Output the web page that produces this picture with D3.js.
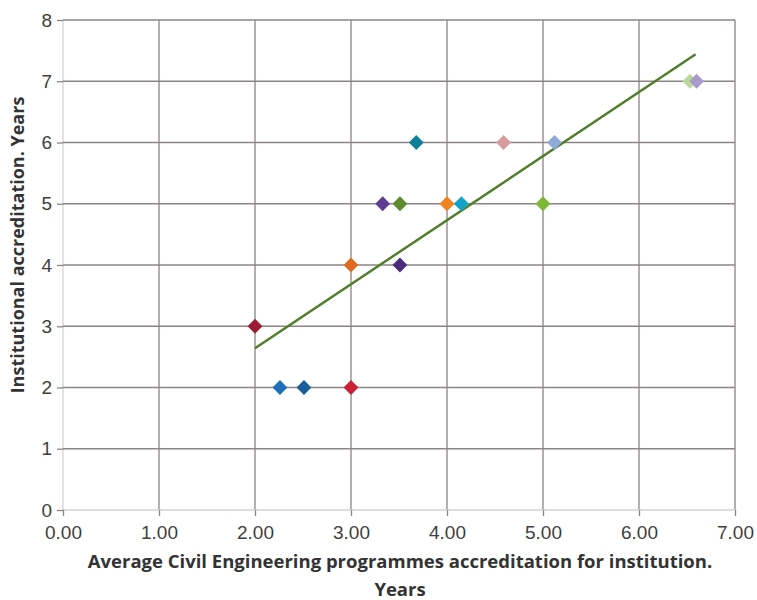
<!DOCTYPE html>
<html>
<head>
<meta charset="utf-8">
<script src="https://cdn.jsdelivr.net/npm/d3@7"></script>
<style>
  body { margin: 0; background: #fff; }
  svg { font-family: "Open Sans", "Liberation Sans", sans-serif; }
  .axis path { display: none; }
  .axis line { stroke: #8c8484; stroke-width: 1.3; }
  .axis text { fill: #404040; font-size: 19px; }
</style>
</head>
<body>
<div id="container1"></div>
<script>
// data
let xVals = [2.00, 2.26, 2.51, 3.00, 3.00, 3.33, 3.51, 3.51, 3.68, 4.00, 4.15, 4.59, 5.00, 5.12, 6.53, 6.60]
let yVals = [3, 2, 2, 2, 4, 5, 5, 4, 6, 5, 5, 6, 5, 6, 7, 7]
let colors = ["#9b1c31", "#1f70b8", "#1b5c9a", "#cc2038", "#e06d1f", "#5d3d8f", "#5b8a2f", "#4a2e7c",
              "#0f7f9a", "#f2821e", "#13a3c8", "#d99b9b", "#7cb834", "#8fa9d8", "#bad89b", "#a99bc9"]
let trendX = [2.00, 6.59]
let trendY = [2.64, 7.44]
let xTicks = [0, 1, 2, 3, 4, 5, 6, 7]
let yTicks = [0, 1, 2, 3, 4, 5, 6, 7, 8]

const w = 757;
const h = 600;
const padL = 63, padR = 735, padT = 20, padB = 510;

const svg = d3.select("#container1")
    .append("svg")
    .attr("width", w)
    .attr("height", h);

const xScale = d3.scaleLinear().domain([0, 7]).range([padL, padR]);
const yScale = d3.scaleLinear().domain([0, 8]).range([padB, padT]);

// grid
svg.append("g")
    .selectAll("line")
    .data(xTicks)
    .enter()
    .append("line")
    .attr("x1", d => xScale(d)).attr("x2", d => xScale(d))
    .attr("y1", padT).attr("y2", padB)
    .attr("stroke", d => d === 0 ? "#d8d2d2" : "#8c8484")
    .attr("stroke-width", 1.3);

svg.append("g")
    .selectAll("line")
    .data(yTicks)
    .enter()
    .append("line")
    .attr("x1", padL).attr("x2", padR)
    .attr("y1", d => yScale(d)).attr("y2", d => yScale(d))
    .attr("stroke", d => d === 0 ? "#d8d2d2" : "#8c8484")
    .attr("stroke-width", 1.3);

const xAxis = d3.axisBottom(xScale).tickValues(xTicks).tickFormat(d3.format(".2f")).tickSize(6).tickPadding(10);
const yAxis = d3.axisLeft(yScale).tickValues(yTicks).tickSize(6).tickPadding(5);

svg.append("g")
    .attr("transform", `translate(0,${padB})`)
    .attr("class", "axis")
    .call(xAxis);

svg.append("g")
    .attr("transform", `translate(${padL},0)`)
    .attr("class", "axis")
    .call(yAxis);

// trend line
svg.append("line")
    .attr("x1", xScale(trendX[0])).attr("y1", yScale(trendY[0]))
    .attr("x2", xScale(trendX[1])).attr("y2", yScale(trendY[1]))
    .attr("stroke", "#4f7f2b")
    .attr("stroke-width", 2.5);

// diamonds
svg.append("g")
    .selectAll("path")
    .data(xVals)
    .enter()
    .append("path")
    .attr("d", d3.symbol().type(d3.symbolSquare).size(110))
    .attr("transform", (d, i) => `translate(${xScale(d)},${yScale(yVals[i])}) rotate(45)`)
    .attr("fill", (d, i) => colors[i]);

// axis titles
svg.append("text")
    .attr("x", 400).attr("y", 568)
    .attr("text-anchor", "middle")
    .attr("font-size", 18.5).attr("font-weight", "bold").attr("fill", "#333")
    .text("Average Civil Engineering programmes accreditation for institution.");

svg.append("text")
    .attr("x", 400).attr("y", 596)
    .attr("text-anchor", "middle")
    .attr("font-size", 18.5).attr("font-weight", "bold").attr("fill", "#333")
    .text("Years");

svg.append("text")
    .attr("transform", `translate(24,245) rotate(-90)`)
    .attr("text-anchor", "middle")
    .attr("font-size", 18).attr("font-weight", "bold").attr("fill", "#333")
    .text("Institutional accreditation. Years");
</script>
</body>
</html>
